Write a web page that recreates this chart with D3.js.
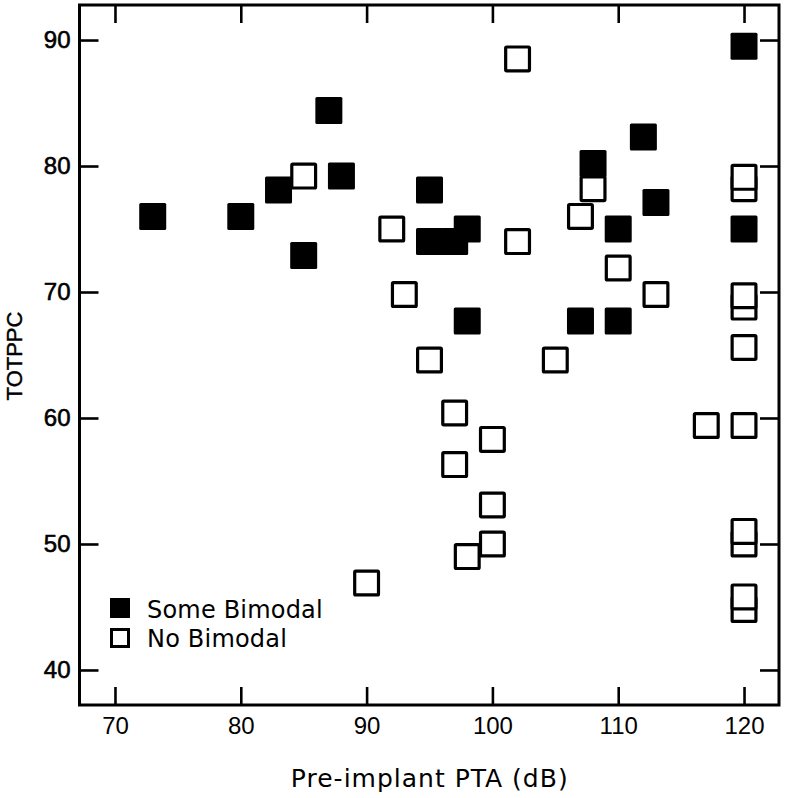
<!DOCTYPE html>
<html>
<head>
<meta charset="utf-8">
<script src="https://cdn.jsdelivr.net/npm/d3@7"></script>
<style>
  html, body { margin: 0; padding: 0; background: #fff; }
  svg { display: block; }
</style>
</head>
<body>
<svg id="chart" width="800" height="798"></svg>
<script>
// ---- data ----
const someBimodalX = [73, 80, 83, 85, 87, 88, 95, 95, 97, 98, 98, 107, 108, 110, 110, 112, 113, 120, 120];
const someBimodalY = [76, 76, 78.1, 72.9, 84.4, 79.2, 78.1, 74, 74, 75, 67.7, 67.7, 80.2, 75, 67.7, 82.3, 77.1, 89.5, 75];

const noBimodalX = [85, 90, 92, 93, 95, 97, 97, 98, 100, 100, 100, 102, 102, 105, 107, 108, 110, 113, 117,
                    120, 120, 120, 120, 120, 120, 120, 120, 120, 120];
const noBimodalY = [79.2, 46.9, 75, 69.8, 64.6, 60.4, 56.3, 49, 58.3, 53.1, 50, 88.5, 74, 64.6, 76, 78.2, 71.9, 69.8, 59.4,
                    78.2, 79.1, 68.8, 69.7, 65.6, 59.4, 50, 51, 44.8, 45.8];

const xTicks = [70, 80, 90, 100, 110, 120];
const yTicks = [40, 50, 60, 70, 80, 90];
const xTitle = "Pre-implant PTA (dB)";
const yTitle = "TOTPPC";
const legendLabels = ["Some Bimodal", "No Bimodal"];

// ---- layout ----
const svg = d3.select("#chart");
const L = 79.5, T = 5, R = 779, B = 705;

const x = d3.scaleLinear().domain([67.18, 122.78]).range([L, R]);
const y = d3.scaleLinear().domain([37.22, 92.78]).range([B, T]);

const filled = someBimodalX.map((v, i) => ({x: v, y: someBimodalY[i]}));
const open = noBimodalX.map((v, i) => ({x: v, y: noBimodalY[i]}));

// markers
const S = 27;
svg.append("g").selectAll("rect").data(filled).join("rect")
  .attr("x", d => x(d.x) - S / 2)
  .attr("y", d => y(d.y) - S / 2)
  .attr("width", S).attr("height", S)
  .attr("rx", 1.5)
  .attr("fill", "#000");

const sw = 3.2;
svg.append("g").selectAll("rect").data(open).join("rect")
  .attr("x", d => x(d.x) - (S - sw) / 2)
  .attr("y", d => y(d.y) - (S - sw) / 2)
  .attr("width", S - sw).attr("height", S - sw)
  .attr("rx", 1)
  .attr("fill", "#fff")
  .attr("stroke", "#000")
  .attr("stroke-width", sw);

// axes
function styleAxis(g, showLabels) {
  g.attr("font-size", 24).attr("font-family", "Liberation Sans, Arial, sans-serif");
  g.select(".domain").remove();
  g.selectAll(".tick line").attr("stroke", "#000").attr("stroke-width", 2.6);
  if (!showLabels) g.selectAll(".tick text").remove();
  g.selectAll(".tick text")
    .attr("fill", "#000")
    .attr("font-size", 24);
}

svg.append("g").attr("transform", `translate(0,${B})`)
  .call(d3.axisBottom(x).tickValues(xTicks).tickSize(-18).tickPadding(12).tickFormat(d3.format("d")))
  .call(g => styleAxis(g, true));

svg.append("g").attr("transform", `translate(0,${T})`)
  .call(d3.axisTop(x).tickValues(xTicks).tickSize(-18))
  .call(g => styleAxis(g, false));

svg.append("g").attr("transform", `translate(${L},0)`)
  .call(d3.axisLeft(y).tickValues(yTicks).tickSize(-19).tickPadding(9).tickFormat(d3.format("d")))
  .call(g => styleAxis(g, true))
  .call(g => g.selectAll(".tick text").attr("stroke", "#000").attr("stroke-width", 0.6));

svg.append("g").attr("transform", `translate(${R},0)`)
  .call(d3.axisRight(y).tickValues(yTicks).tickSize(-19))
  .call(g => styleAxis(g, false));

// frame
svg.append("rect")
  .attr("x", L).attr("y", T)
  .attr("width", R - L).attr("height", B - T)
  .attr("fill", "none").attr("stroke", "#000").attr("stroke-width", 3);

// titles
svg.append("text")
  .attr("x", (L + R) / 2 + 0.5).attr("y", 787)
  .attr("text-anchor", "middle")
  .attr("font-family", "DejaVu Sans, sans-serif")
  .attr("font-size", 25)
  .style("letter-spacing", "1px")
  .text(xTitle);

svg.append("text")
  .attr("transform", `translate(22,${(T + B) / 2 + 1}) rotate(-90)`)
  .attr("text-anchor", "middle")
  .attr("font-family", "Liberation Sans, Arial, sans-serif")
  .attr("font-size", 22)
  .attr("stroke", "#000").attr("stroke-width", 0.4)
  .text(yTitle);

// legend
const lg = svg.append("g");
lg.append("rect").attr("x", 110).attr("y", 598).attr("width", 20).attr("height", 20).attr("fill", "#000");
lg.append("rect").attr("x", 111.5).attr("y", 629.5).attr("width", 17).attr("height", 17)
  .attr("fill", "#fff").attr("stroke", "#000").attr("stroke-width", 3);
lg.selectAll("text").data(legendLabels).join("text")
  .attr("x", 147).attr("y", (d, i) => 618 + i * 29)
  .attr("font-family", "DejaVu Sans, sans-serif")
  .attr("font-size", 24)
  .style("letter-spacing", "0.2px")
  .text(d => d);
</script>
</body>
</html>
